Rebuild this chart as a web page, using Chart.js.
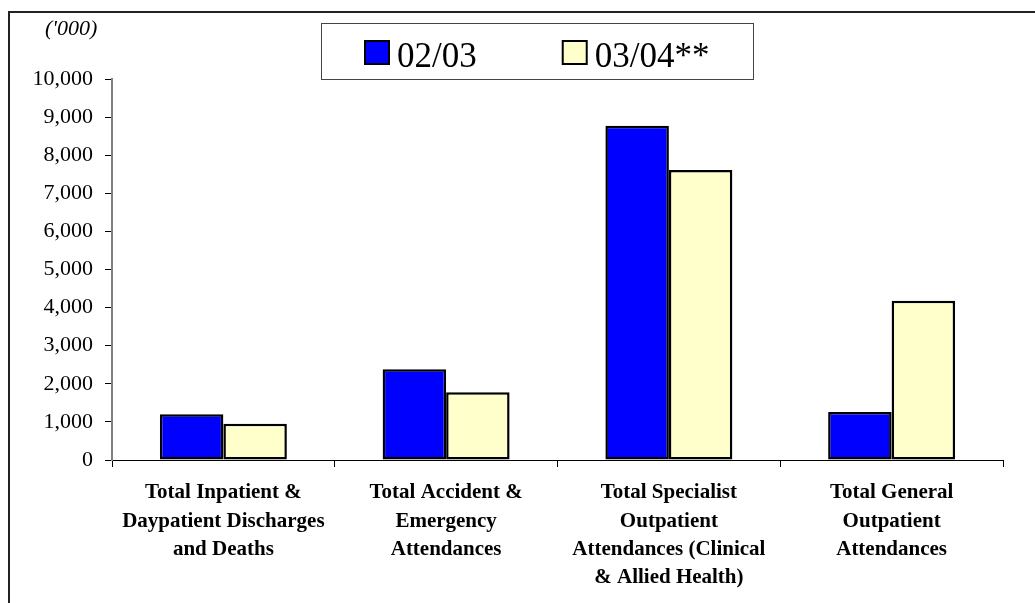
<!DOCTYPE html>
<html>
<head>
<meta charset="utf-8">
<script src="https://cdn.jsdelivr.net/npm/chart.js@4"></script>
<style>
  html, body { margin: 0; padding: 0; background: #fff; }
  #wrap { width: 1035px; height: 603px; position: relative; }
</style>
</head>
<body>
<div id="wrap"><canvas id="myChart" width="1035" height="603"></canvas></div>
<script>
    var categories = [
        ['Total Inpatient &', 'Daypatient Discharges', 'and Deaths'],
        ['Total Accident &', 'Emergency', 'Attendances'],
        ['Total Specialist', 'Outpatient', 'Attendances (Clinical', '& Allied Health)'],
        ['Total General', 'Outpatient', 'Attendances']
    ];
    var seriesNames = ['02/03', '03/04**'];
    var values0203 = [1200, 2380, 8770, 1260];
    var values0304 = [950, 1780, 7610, 4180];
    var yTicks = [0, 1000, 2000, 3000, 4000, 5000, 6000, 7000, 8000, 9000, 10000];
    var unitLabel = "('000)";

    var serif = '"Liberation Serif", "Times New Roman", serif';

    // frame, unit label and boxed legend, drawn on the canvas
    var decorPlugin = {
        id: 'decor',
        afterDraw: function (chart) {
            var c = chart.ctx;
            c.save();
            c.strokeStyle = '#222';
            c.lineWidth = 2;
            c.strokeRect(9, 12, 1200, 800);

            c.fillStyle = '#000';
            c.font = 'italic 22px ' + serif;
            c.textBaseline = 'alphabetic';
            c.textAlign = 'left';
            c.fillText(unitLabel, 45, 35);

            c.lineWidth = 1;
            c.strokeStyle = '#444';
            c.strokeRect(321.5, 23.5, 432, 56);

            c.font = '35px ' + serif;
            var x = 365;
            chart.data.datasets.forEach(function (ds) {
                c.fillStyle = ds.backgroundColor;
                c.fillRect(x, 41, 24, 23);
                c.strokeStyle = '#000';
                c.lineWidth = 2;
                c.strokeRect(x, 41, 24, 23);
                c.fillStyle = '#000';
                c.fillText(ds.label, x + 32, 67);
                x += 32 + c.measureText(ds.label).width + 86;
            });
            c.restore();
        }
    };

    var ctx = document.getElementById('myChart').getContext('2d');
    var myChart = new Chart(ctx, {
        type: 'bar',
        data: {
            labels: categories,
            datasets: [{
                label: seriesNames[0],
                data: values0203,
                backgroundColor: '#0000FF',
                borderColor: '#000000',
                borderWidth: 2.5,
                borderSkipped: false
            }, {
                label: seriesNames[1],
                data: values0304,
                backgroundColor: '#FFFFCC',
                borderColor: '#000000',
                borderWidth: 2.5,
                borderSkipped: false
            }]
        },
        options: {
            responsive: false,
            animation: false,
            layout: {
                padding: { top: 79, right: 32, left: 0, bottom: 0 }
            },
            datasets: {
                bar: { categoryPercentage: 0.57, barPercentage: 1.0 }
            },
            plugins: {
                legend: { display: false },
                tooltip: { enabled: false },
                title: { display: false }
            },
            scales: {
                x: {
                    offset: true,
                    grid: {
                        offset: true,
                        drawOnChartArea: false,
                        drawTicks: true,
                        tickLength: 7,
                        color: '#000'
                    },
                    border: { display: true, color: '#000', width: 1 },
                    ticks: {
                        autoSkip: false,
                        maxRotation: 0,
                        minRotation: 0,
                        padding: 12,
                        color: '#000',
                        font: { family: serif, size: 21, weight: 'bold', lineHeight: 1.34 }
                    },
                    afterFit: function (scale) { scale.height = 143; }
                },
                y: {
                    min: 0,
                    max: 10000,
                    afterBuildTicks: function (scale) {
                        scale.ticks = yTicks.map(function (v) { return { value: v }; });
                    },
                    grid: {
                        drawOnChartArea: false,
                        drawTicks: true,
                        tickLength: 7,
                        color: '#000'
                    },
                    border: { display: true, color: '#808080', width: 2 },
                    ticks: {
                        padding: 12,
                        color: '#000',
                        font: { family: serif, size: 22 },
                        callback: function (v) { return Number(v).toLocaleString('en-US'); }
                    },
                    afterFit: function (scale) { scale.width = 112; }
                }
            }
        },
        plugins: [decorPlugin]
    });
</script>
</body>
</html>
